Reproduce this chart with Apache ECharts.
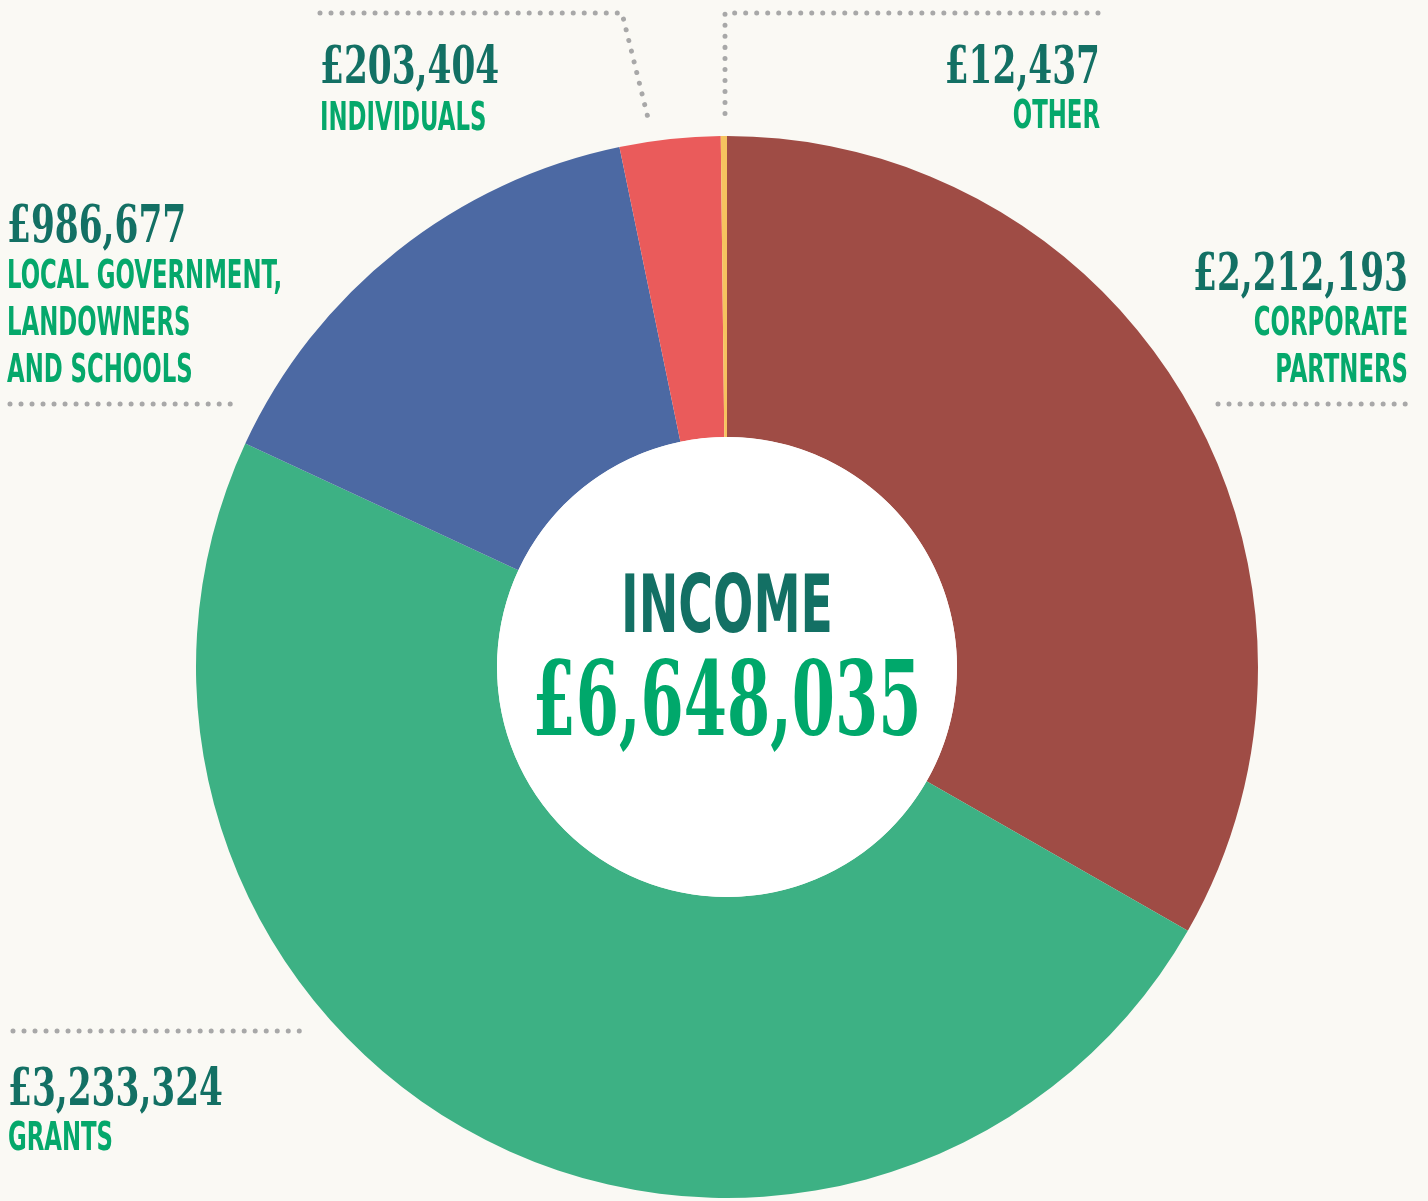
<!DOCTYPE html>
<html>
<head>
<meta charset="utf-8">
<style>
  html, body { margin: 0; padding: 0; background: #faf9f4; }
  #income { width: 1428px; height: 1201px; }
</style>
<script src="https://cdn.jsdelivr.net/npm/echarts/dist/echarts.min.js"></script>
</head>
<body>
<div id="income"></div>
<script>
// income by source, clockwise from 12 o'clock
const categories = ['Corporate partners', 'Grants', 'Local government, landowners and schools', 'Individuals', 'Other']
const values = [2212193, 3233324, 986677, 203404, 12437]
const labelNames = [
  ['CORPORATE', 'PARTNERS'],
  ['GRANTS'],
  ['LOCAL GOVERNMENT,', 'LANDOWNERS', 'AND SCHOOLS'],
  ['INDIVIDUALS'],
  ['OTHER']
]
const centerTitle = 'INCOME'

const sliceColors = ['#9f4c45', '#3db184', '#4c69a3', '#ea5b5b', '#f6c35f']
const numColor = '#137064'
const nameColor = '#05a86b'
const dotColor = '#a8a8a8'
const numFont = '"DejaVu Serif Condensed", "DejaVu Serif", serif'
const nameFont = '"DejaVu Sans Condensed", "DejaVu Sans", sans-serif'

const center = [727, 667]
const total = values.reduce((a, b) => a + b, 0)
const money = v => '£' + v.toLocaleString('en-GB')

// where each annotation sits (x, align, top of number, top of first name line, leader line)
const anchors = [
  { x: 1408, align: 'right', numTop: 250, nameTop: 305, line: [[1218, 404], [1410, 404]] },
  { x: 8, align: 'left', numTop: 1065, nameTop: 1120, line: [[13, 1031], [303, 1031]] },
  { x: 7, align: 'left', numTop: 202, nameTop: 258, line: [[10, 404], [235, 404]] },
  { x: 320, align: 'left', numTop: 43, nameTop: 100, line: [[320, 13], [622, 13], [648, 118]] },
  { x: 1100, align: 'right', numTop: 43, nameTop: 98, line: [[1098, 13], [725, 13], [725, 116]] }
]

function txt(text, x, y, align, font, size, color, sx) {
  return {
    type: 'text',
    x: x,
    y: y,
    z: 100,
    scaleX: sx,
    silent: true,
    style: {
      text: text,
      font: 'bold ' + size + 'px ' + font,
      fill: color,
      align: align,
      textAlign: align,
      verticalAlign: 'top',
      textVerticalAlign: 'top'
    }
  }
}

const graphics = []
categories.forEach((c, i) => {
  const a = anchors[i]
  graphics.push({
    type: 'polyline',
    silent: true,
    z: 100,
    shape: { points: a.line },
    style: { stroke: dotColor, lineWidth: 5, lineCap: 'round', lineDash: [0.01, 11], fill: null }
  })
  graphics.push(txt(money(values[i]), a.x, a.numTop, a.align, numFont, 53, numColor, 0.72))
  labelNames[i].forEach((n, k) => {
    graphics.push(txt(n, a.x, a.nameTop + k * 47, a.align, nameFont, 39, nameColor, 0.65))
  })
})
// centre text
graphics.push(txt(centerTitle, center[0], 570, 'center', nameFont, 81, numColor, 0.65))
graphics.push(txt(money(total), center[0], 657, 'center', numFont, 103, '#00a86b', 0.67))

const chart = echarts.init(document.getElementById('income'))
chart.setOption({
  backgroundColor: '#faf9f4',
  animation: false,
  series: [
    {
      name: 'Income',
      type: 'pie',
      center: center,
      radius: [230, 531],
      startAngle: 90,
      clockwise: true,
      silent: true,
      label: { show: false },
      labelLine: { show: false },
      itemStyle: { borderWidth: 0 },
      data: categories.map((c, i) => ({ name: c, value: values[i], itemStyle: { color: sliceColors[i] } }))
    },
    {
      name: 'hole',
      type: 'pie',
      center: center,
      radius: [0, 230],
      silent: true,
      label: { show: false },
      labelLine: { show: false },
      itemStyle: { color: '#ffffff' },
      data: [{ name: 'hole', value: 1 }]
    }
  ],
  graphic: graphics
})
window.addEventListener('resize', () => {
  chart.resize()
})
</script>
</body>
</html>
